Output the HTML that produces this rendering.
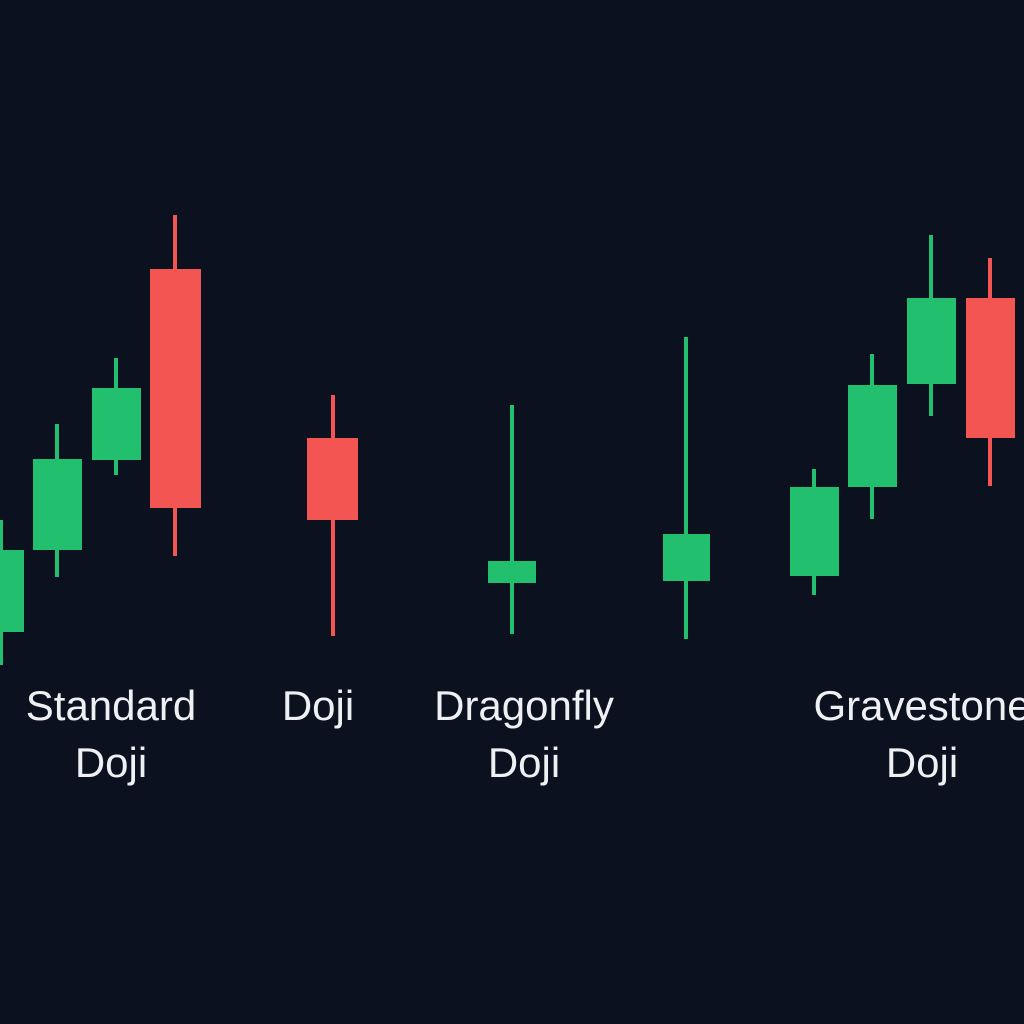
<!DOCTYPE html>
<html><head><meta charset="utf-8"><style>
html,body{margin:0;padding:0;background:#0b111f;}
.w{position:relative;width:1024px;height:1024px;overflow:hidden;background:#0b111f;font-family:"Liberation Sans",sans-serif;}
.b,.k{position:absolute;}
.g{background:#22bf6f}.r{background:#f35652}
.t{position:absolute;color:#eef0f3;font-size:42px;text-align:center;line-height:57px;width:300px;}
</style></head><body><div class="w">
<div class="k g" style="left:-1px;top:520px;width:4px;height:145px"></div>
<div class="k g" style="left:55px;top:424px;width:4px;height:153px"></div>
<div class="k g" style="left:114px;top:358px;width:4px;height:117px"></div>
<div class="k r" style="left:173px;top:215px;width:4px;height:341px"></div>
<div class="k r" style="left:331px;top:395px;width:4px;height:241px"></div>
<div class="k g" style="left:510px;top:405px;width:4px;height:229px"></div>
<div class="k g" style="left:684px;top:337px;width:4px;height:302px"></div>
<div class="k g" style="left:812px;top:469px;width:4px;height:126px"></div>
<div class="k g" style="left:870px;top:354px;width:4px;height:165px"></div>
<div class="k g" style="left:929px;top:235px;width:4px;height:181px"></div>
<div class="k r" style="left:988px;top:258px;width:4px;height:228px"></div>
<div class="b g" style="left:-10px;top:550px;width:34px;height:82px"></div>
<div class="b g" style="left:33px;top:459px;width:49px;height:91px"></div>
<div class="b g" style="left:92px;top:388px;width:49px;height:72px"></div>
<div class="b r" style="left:150px;top:269px;width:51px;height:239px"></div>
<div class="b r" style="left:307px;top:438px;width:51px;height:82px"></div>
<div class="b g" style="left:488px;top:561px;width:48px;height:22px"></div>
<div class="b g" style="left:663px;top:534px;width:47px;height:47px"></div>
<div class="b g" style="left:790px;top:487px;width:49px;height:89px"></div>
<div class="b g" style="left:848px;top:385px;width:49px;height:102px"></div>
<div class="b g" style="left:907px;top:298px;width:49px;height:86px"></div>
<div class="b r" style="left:966px;top:298px;width:49px;height:140px"></div>
<div class="t" style="left:-39px;top:677px">Standard<br>Doji</div>
<div class="t" style="left:168px;top:677px">Doji</div>
<div class="t" style="left:374px;top:677px">Dragonfly<br>Doji</div>
<div class="t" style="left:772px;top:677px;white-space:nowrap">Gravestone<br>Doji</div>
</div></body></html>
